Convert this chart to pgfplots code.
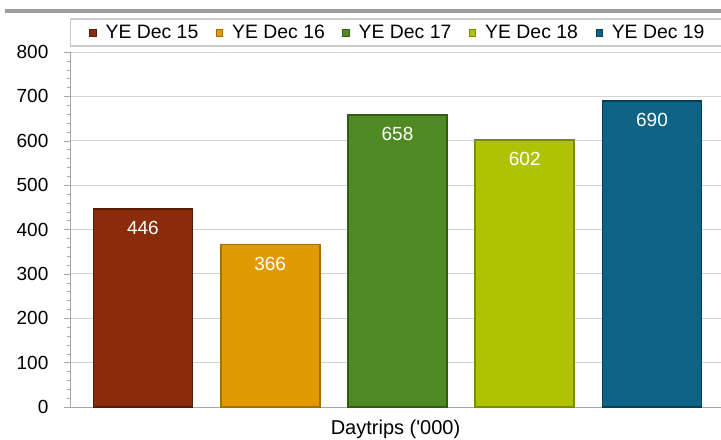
\documentclass[border=0pt]{standalone}
\usepackage{pgfplots}
\pgfplotsset{compat=1.18}
\usepackage{fontspec}
\setmainfont{Liberation Sans}
\definecolor{c1}{HTML}{8A2B0C}
\definecolor{c1d}{HTML}{5A1A05}
\definecolor{c2}{HTML}{E29A02}
\definecolor{c2d}{HTML}{A86E00}
\definecolor{c3}{HTML}{4F8A24}
\definecolor{c3d}{HTML}{2F5E12}
\definecolor{c4}{HTML}{AFC302}
\definecolor{c4d}{HTML}{7C8C00}
\definecolor{c5}{HTML}{0E6486}
\definecolor{c5d}{HTML}{093F56}
\begin{document}
\begin{tikzpicture}
\useasboundingbox (-35pt,-16pt) rectangle (325.5pt,203.5pt);
\fill[black!38] (-32.5pt,197pt) rectangle (326pt,199pt);
\draw[black!20, line width=0.6pt] (0.35pt,180.5pt) rectangle (330pt,194pt);
\begin{axis}[
  at={(0,0)}, anchor=south west,
  scale only axis, width=325.5pt, height=177.5pt,
  xmin=-0.573, xmax=4.542, ymin=0, ymax=800,
  axis x line=bottom, axis y line=left,
  axis line style={black!35, -},
  xtick=\empty,
  ytick distance=100, minor y tick num=4,
  tick align=outside, major tick length=3pt, minor tick length=1.7pt,
  tick style={black!35},
  ymajorgrids, grid style={black!18},
  /pgf/number format/assume math mode=true,
  yticklabel style={font=\fontsize{9.5}{10}\selectfont, xshift=-4.3pt},
  ybar, bar width=49.5pt, bar shift=0pt,
  nodes near coords,
  nodes near coords style={white, font=\fontsize{9.5}{10}\selectfont, anchor=north, yshift=-2.4pt},
  xlabel={Daytrips (\textquotesingle000)},
  xlabel style={font=\fontsize{10}{11}\selectfont, at={(axis description cs:0.5,0)}, anchor=base, yshift=-13.75pt},
  legend columns=5,
  legend style={draw=none, fill=none, inner sep=0pt, at={(axis description cs:0,1)}, anchor=west,
    xshift=9.5pt, yshift=9.5pt, font=\fontsize{9.7}{10}\selectfont,
    /tikz/every odd column/.append style={column sep=2.5pt},
    /tikz/every even column/.append style={column sep=6.8pt}},
  legend image code/.code={\draw[#1,/tikz/.cd,line width=0.4pt] (0pt,-1.6pt) rectangle (3.2pt,1.6pt);},
  every axis plot/.append style={line width=0.8pt},
]
\addplot[fill=c1, draw=c1d] coordinates {(0,446)};
\addplot[fill=c2, draw=c2d] coordinates {(1,366)};
\addplot[fill=c3, draw=c3d] coordinates {(2,658)};
\addplot[fill=c4, draw=c4d] coordinates {(3,602)};
\addplot[fill=c5, draw=c5d] coordinates {(4,690)};
\legend{YE Dec 15, YE Dec 16, YE Dec 17, YE Dec 18, YE Dec 19}
\end{axis}
\end{tikzpicture}
\end{document}
